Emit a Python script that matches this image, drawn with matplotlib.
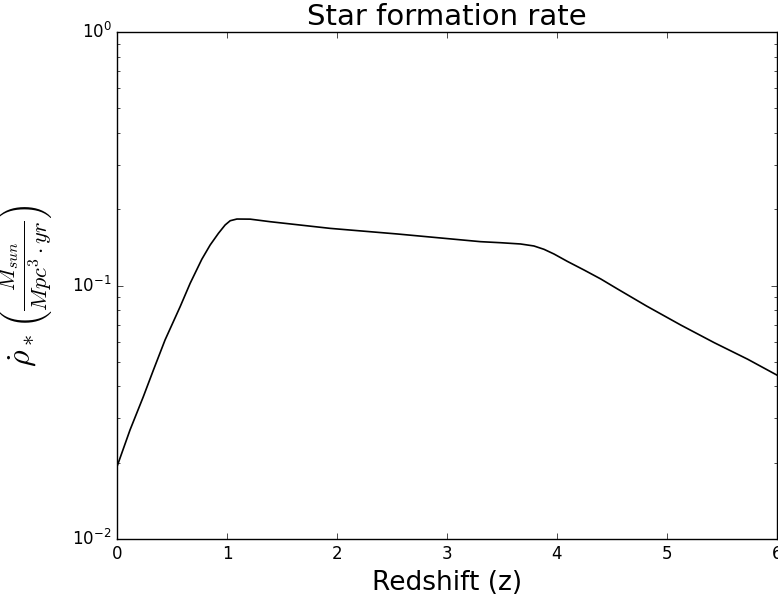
import matplotlib
matplotlib.use("Agg")
import matplotlib.pyplot as plt

plt.style.use("classic")
plt.rcParams["mathtext.fontset"] = "cm"

redshift = [0.0, 0.118, 0.239, 0.331, 0.437, 0.574, 0.665, 0.771, 0.847,
            0.922, 0.983, 1.029, 1.090, 1.211, 1.393, 1.939, 2.547, 3.305,
            3.487, 3.669, 3.790, 3.882, 3.973, 4.094, 4.246, 4.398, 4.550,
            4.814, 5.126, 5.429, 5.733, 6.0]
sfr = [0.0193, 0.0269, 0.0364, 0.0464, 0.0610, 0.0825, 0.102, 0.1269, 0.1445,
       0.1606, 0.1733, 0.1801, 0.1829, 0.1827, 0.1785, 0.168, 0.1597, 0.1489,
       0.1475, 0.1458, 0.1432, 0.1389, 0.1331, 0.1245, 0.1151, 0.1061, 0.0969,
       0.0830, 0.0698, 0.0595, 0.0512, 0.0443]

fig = plt.figure(figsize=(7.78, 6.03), dpi=100, facecolor="white")
ax = fig.add_axes([117 / 778, (603 - 539) / 603, 660 / 778, 507 / 603])
ax.plot(redshift, sfr, color="black", linewidth=1.2)
ax.set_yscale("log")
ax.set_xlim(0, 6)
ax.set_ylim(1e-2, 1)
ax.set_title("Star formation rate", fontsize=21, pad=5)
ax.set_xlabel("Redshift (z)", fontsize=19)
ax.set_ylabel(r"$\dot{\rho}_*\left(\frac{M_{sun}}{Mpc^3 \cdot yr}\right)$",
              fontsize=23, labelpad=13)
fig.savefig("out.png", dpi=100, facecolor="white")
